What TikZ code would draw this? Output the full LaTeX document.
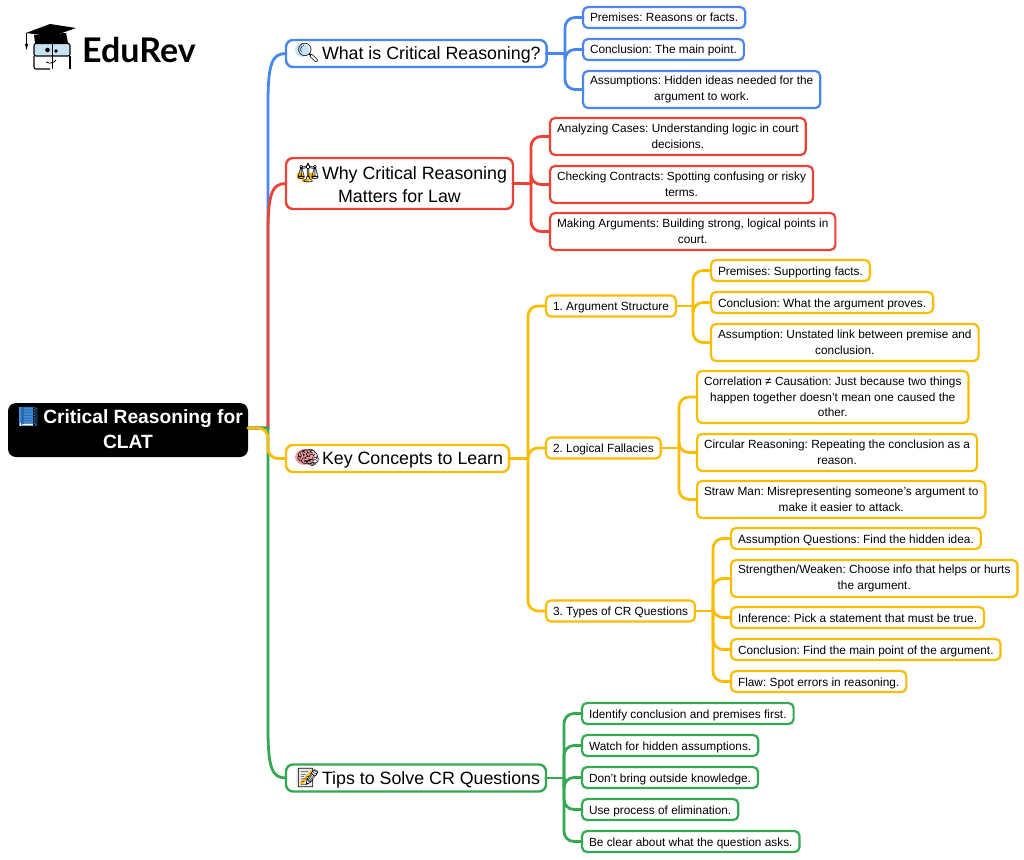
\documentclass[tikz,border=0pt]{standalone}
\usepackage{fontspec}
\setmainfont{Liberation Sans}
\newfontfamily\emojifont{Noto Emoji}
\newfontfamily\logofont{Lato}
\usetikzlibrary{calc}
\frenchspacing
\definecolor{mapblue}{HTML}{4A86F0}
\definecolor{mapred}{HTML}{EA4335}
\definecolor{mapyellow}{HTML}{FBBC04}
\definecolor{mapgreen}{HTML}{34A853}
\definecolor{bookblue}{HTML}{3F8FE0}
\definecolor{brainpink}{HTML}{F29CA3}
\definecolor{lensblue}{HTML}{C6E2F4}
\tikzset{
	rootbox/.style={text=white, anchor=west, align=center, inner xsep=4pt, inner ysep=2pt, outer sep=0pt, minimum width=240pt, minimum height=54pt, font=\fontsize{19.2}{25}\selectfont\bfseries},
	branchbox/.style={draw=#1, line width=2.4pt, rounded corners=7pt, anchor=west, align=center, inner xsep=6pt, inner ysep=2pt, outer sep=0pt, minimum height=27pt, font=\fontsize{17.8}{23}\selectfont},
	leafbox/.style={draw=#1, line width=2.2pt, rounded corners=5pt, anchor=west, align=center, inner xsep=7pt, inner ysep=2pt, outer sep=0pt, minimum height=21pt, font=\fontsize{11.85}{15.7}\selectfont},
	oneline/.style={text height=10pt, text depth=1pt},
	twolines/.style={minimum height=37pt},
	threelines/.style={minimum height=52pt},
	link/.style={draw=#1, line width=2.8pt, line cap=round},
}
\def\forklink[#1](#2)(#3)(#4){\draw[link=#1] (#2.east) -- (#3 |- #2.east); \draw[link=#1, rounded corners=10pt] (#3 |- #2.east) |- (#4.west);}
\def\trunklink[#1](#2)(#3)(#4)#5{\draw[link=#1] (#2.east) -- (#3 |- #2.east) -- ($(#3 |- #4.west)+(0,#5)$) .. controls ($(#3 |- #4.west)+(0,#5*0.2)$) and ($(#3 |- #4.west)+(4,0)$) .. (#4.west);}
\newcommand{\emo}[1]{\makebox[30pt][l]{\hspace*{4pt}{\emojifont\fontsize{19}{23}\selectfont #1}}}

\begin{document}
\begin{tikzpicture}[x=1pt, y=-1pt]
	\useasboundingbox (0, 0) rectangle (1024, 859);

	%%%%% LOGO %%%%%
	\fill (50, 24) -- (76, 28) -- (52, 36.5) -- (26, 33) -- cycle;
	\fill (34, 35) -- (66, 33) -- (68, 43) -- (35, 43) -- cycle;
	\draw[line width=0.8pt] (26.5, 33) -- (26.5, 47);
	\fill (25, 44) -- (28, 44) -- (26.5, 50) -- cycle;
	\draw[line width=1.1pt, fill=lensblue, rounded corners=2pt] (34, 43.5) rectangle (70, 56);
	\draw[line width=1.1pt, rounded corners=2pt] (34, 56) -- (34, 69) -- (50, 69);
	\draw[line width=1.1pt, rounded corners=2pt] (70, 56) -- (70, 69);
	\draw[line width=1pt] (52, 43) -- (52, 69);
	\draw[line width=0.8pt] (46, 62) .. controls (50, 64) and (54, 63) .. (56, 60);
	\fill (47.5, 50) circle (2.3);
	\fill (56, 51) circle (1.8);
	\node[anchor=west, inner sep=0pt, font=\logofont\bfseries\fontsize{34}{40}\selectfont] (logo) at (82, 50) {EduRev};

	%%%%% ICON COLOURS %%%%%
	\fill[rounded corners=8pt] (8, 403) rectangle (248, 457);
	\fill[bookblue] (18.5, 407) rectangle (32.5, 426);
	\fill[white] (19.5, 423) rectangle (32.5, 425.5);
	\fill[lensblue] (302, 50) circle (7);
	\fill[mapyellow] (300, 176) circle (3.5);
	\fill[mapyellow] (311, 176) circle (3.5);
	\fill[mapyellow] (302, 179) rectangle (309, 182);
	\fill[brainpink] (305, 457) ellipse (10 and 8);
	\fill[black!8] (296, 768) rectangle (312, 787);
	\draw[mapyellow, line width=2.5pt] (301, 784) -- (312, 771);

	%%%%% NODES %%%%%
	\node[rootbox] (root) at (8, 428) {\emo{\textcolor{bookblue!70!black}{📘}}Critical Reasoning for\\CLAT};

	\node[branchbox=mapblue] (what) at (286, 53.5) {\emo{🔍}What is Critical Reasoning?};
	\node[branchbox=mapred, minimum height=51pt] (why) at (286, 183.5) {\emo{⚖}Why Critical Reasoning\\Matters for Law};
	\node[branchbox=mapyellow] (key) at (286, 458.5) {\emo{🧠}Key Concepts to Learn};
	\node[branchbox=mapgreen] (tips) at (286, 778) {\emo{📝}Tips to Solve CR Questions};

	\node[leafbox=mapblue, oneline] (premises) at (583, 17.5) {Premises: Reasons or facts.};
	\node[leafbox=mapblue, oneline] (conclusion) at (583, 49.5) {Conclusion: The main point.};
	\node[leafbox=mapblue, twolines] (assumptions) at (583, 89.5) {Assumptions: Hidden ideas needed for the\\argument to work.};

	\node[leafbox=mapred, twolines] (cases) at (550, 136.5) {Analyzing Cases: Understanding logic in court\\decisions.};
	\node[leafbox=mapred, twolines] (contracts) at (550, 184.5) {Checking Contracts: Spotting confusing or risky\\terms.};
	\node[leafbox=mapred, twolines] (arguments) at (550, 231.5) {Making Arguments: Building strong, logical points in\\court.};

	\node[leafbox=mapyellow, oneline] (structure) at (546, 306) {1. Argument Structure};
	\node[leafbox=mapyellow, oneline] (fallacies) at (546, 448) {2. Logical Fallacies};
	\node[leafbox=mapyellow, oneline] (types) at (546, 611) {3. Types of CR Questions};

	\node[leafbox=mapyellow, oneline] (facts) at (711, 270.5) {Premises: Supporting facts.};
	\node[leafbox=mapyellow, oneline] (proves) at (711, 302.5) {Conclusion: What the argument proves.};
	\node[leafbox=mapyellow, twolines] (unstated) at (711, 342.5) {Assumption: Unstated link between premise and\\conclusion.};

	\node[leafbox=mapyellow, threelines] (correlation) at (697, 397) {Correlation ≠ Causation: Just because two things\\happen together doesn't mean one caused the\\other.};
	\node[leafbox=mapyellow, twolines] (circular) at (697, 452.5) {Circular Reasoning: Repeating the conclusion as a\\reason.};
	\node[leafbox=mapyellow, twolines] (straw) at (697, 499.5) {Straw Man: Misrepresenting someone’s argument to\\make it easier to attack.};

	\node[leafbox=mapyellow, oneline] (hidden) at (731, 538.5) {Assumption Questions: Find the hidden idea.};
	\node[leafbox=mapyellow, twolines] (weaken) at (731, 578.5) {Strengthen/Weaken: Choose info that helps or hurts\\the argument.};
	\node[leafbox=mapyellow, oneline] (inference) at (731, 617.5) {Inference: Pick a statement that must be true.};
	\node[leafbox=mapyellow, oneline] (mainpoint) at (731, 649.5) {Conclusion: Find the main point of the argument.};
	\node[leafbox=mapyellow, oneline] (flaw) at (731, 681.5) {Flaw: Spot errors in reasoning.};

	\node[leafbox=mapgreen, oneline] (identify) at (582, 713.5) {Identify conclusion and premises first.};
	\node[leafbox=mapgreen, oneline] (watch) at (582, 745.5) {Watch for hidden assumptions.};
	\node[leafbox=mapgreen, oneline] (outside) at (582, 777.5) {Don’t bring outside knowledge.};
	\node[leafbox=mapgreen, oneline] (process) at (582, 809.5) {Use process of elimination.};
	\node[leafbox=mapgreen, oneline] (clear) at (582, 841.5) {Be clear about what the question asks.};

	%%%%% LINKS %%%%%
	\coordinate (trunk) at (268, 0);
	\coordinate (whatfork) at (565, 0);
	\coordinate (whyfork) at (531, 0);
	\coordinate (keyfork) at (528, 0);
	\coordinate (tipsfork) at (564, 0);
	\coordinate (structurefork) at (693, 0);
	\coordinate (fallaciesfork) at (679, 0);
	\coordinate (typesfork) at (713, 0);

	\trunklink[mapblue](root)(trunk)(what){50};
	\trunklink[mapred](root)(trunk)(why){50};
	\trunklink[mapgreen](root)(trunk)(tips){-50};
	\draw[link=mapyellow, rounded corners=10pt] (root.east) -- (trunk |- root.east) |- (key.west);

	\forklink[mapblue](what)(whatfork)(premises);
	\forklink[mapblue](what)(whatfork)(conclusion);
	\forklink[mapblue](what)(whatfork)(assumptions);

	\forklink[mapred](why)(whyfork)(cases);
	\forklink[mapred](why)(whyfork)(contracts);
	\forklink[mapred](why)(whyfork)(arguments);

	\forklink[mapyellow](key)(keyfork)(structure);
	\forklink[mapyellow](key)(keyfork)(fallacies);
	\forklink[mapyellow](key)(keyfork)(types);

	\forklink[mapyellow](structure)(structurefork)(facts);
	\forklink[mapyellow](structure)(structurefork)(proves);
	\forklink[mapyellow](structure)(structurefork)(unstated);

	\forklink[mapyellow](fallacies)(fallaciesfork)(correlation);
	\forklink[mapyellow](fallacies)(fallaciesfork)(circular);
	\forklink[mapyellow](fallacies)(fallaciesfork)(straw);

	\forklink[mapyellow](types)(typesfork)(hidden);
	\forklink[mapyellow](types)(typesfork)(weaken);
	\forklink[mapyellow](types)(typesfork)(inference);
	\forklink[mapyellow](types)(typesfork)(mainpoint);
	\forklink[mapyellow](types)(typesfork)(flaw);

	\forklink[mapgreen](tips)(tipsfork)(identify);
	\forklink[mapgreen](tips)(tipsfork)(watch);
	\forklink[mapgreen](tips)(tipsfork)(outside);
	\forklink[mapgreen](tips)(tipsfork)(process);
	\forklink[mapgreen](tips)(tipsfork)(clear);
\end{tikzpicture}
\end{document}
